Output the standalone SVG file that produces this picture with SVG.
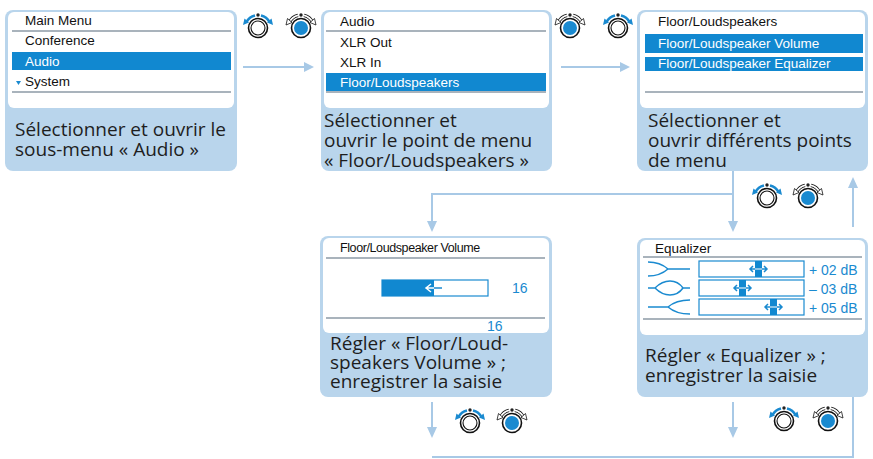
<svg xmlns="http://www.w3.org/2000/svg" width="873" height="459" viewBox="0 0 873 459">
<style>
.panel{fill:#b9d5ec}
.scr{fill:#fff}
.sep{stroke:#8c9aa6;stroke-width:1.3;fill:none}
.hl{fill:#1188d0}
.m{font-family:"Liberation Sans",Arial,sans-serif;font-size:13.5px;fill:#111}
.mw{font-family:"Liberation Sans",Arial,sans-serif;font-size:13.5px;fill:#fff}
.mb{font-family:"Liberation Sans",Arial,sans-serif;font-size:14px;fill:#1a8ad0}
.cap{font-family:"Open Sans","DejaVu Sans",sans-serif;font-size:19px;fill:#1e1e1e}
.con{stroke:#a8c9e6;stroke-width:2;fill:none}
.ah{fill:#a8c9e6}
.eq{stroke:#1a8ad0;stroke-width:1.5;fill:none}
</style>
<defs>
<g id="knobW">
<path d="M-11.5,-6 A13,13 0 0 1 -3,-12.6" stroke="#1a8ad0" stroke-width="2.6" fill="none"/>
<path d="M11.5,-6 A13,13 0 0 0 3,-12.6" stroke="#1a8ad0" stroke-width="2.6" fill="none"/>
<polygon points="-15,-3 -13.5,-9.5 -9,-5.5" fill="#1a8ad0"/>
<polygon points="15,-3 13.5,-9.5 9,-5.5" fill="#1a8ad0"/>
<circle cx="0" cy="-13" r="1.7" fill="#222"/>
<circle r="9.5" fill="#fff" stroke="#111" stroke-width="1.6"/>
<circle r="7" fill="#fff" stroke="#111" stroke-width="1.1"/>
</g>
<g id="knobB">
<path d="M-11.5,-6 A13,13 0 0 1 -3,-12.6" stroke="#111" stroke-width="3.2" fill="none"/>
<path d="M-11.5,-6 A13,13 0 0 1 -3,-12.6" stroke="#fff" stroke-width="1.6" fill="none"/>
<path d="M11.5,-6 A13,13 0 0 0 3,-12.6" stroke="#111" stroke-width="3.2" fill="none"/>
<path d="M11.5,-6 A13,13 0 0 0 3,-12.6" stroke="#fff" stroke-width="1.6" fill="none"/>
<polygon points="-15,-3 -13.5,-9.5 -9,-5.5" fill="#fff" stroke="#111" stroke-width="0.8"/>
<polygon points="15,-3 13.5,-9.5 9,-5.5" fill="#fff" stroke="#111" stroke-width="0.8"/>
<circle cx="0" cy="-13" r="1.7" fill="#222"/>
<circle r="9.5" fill="#fff" stroke="#111" stroke-width="1.6"/>
<circle r="7" fill="#1a8ad0"/>
</g>
</defs>

<g id="connectors">
<line class="con" x1="243" y1="67" x2="306" y2="67"/><polygon class="ah" points="314,67 304,62 304,72"/>
<line class="con" x1="561" y1="67" x2="622" y2="67"/><polygon class="ah" points="630,67 620,62 620,72"/>
<polyline class="con" points="733,171 733,194 432,194 432,222"/><polygon class="ah" points="432,232 427,221 437,221"/>
<line class="con" x1="733" y1="194" x2="733" y2="222"/><polygon class="ah" points="733,232 728,221 738,221"/>
<line class="con" x1="853" y1="227" x2="853" y2="187"/><polygon class="ah" points="853,177 848,188 858,188"/>
<line class="con" x1="432" y1="402" x2="432" y2="428"/><polygon class="ah" points="432,438 427,427 437,427"/>
<line class="con" x1="733" y1="402" x2="733" y2="428"/><polygon class="ah" points="733,438 728,427 738,427"/>
<polyline class="con" points="432,457 853,457 853,397"/>
</g>

<g id="knobs">
<use href="#knobW" x="258" y="28"/><use href="#knobB" x="301" y="28"/>
<use href="#knobB" x="570" y="28"/><use href="#knobW" x="618" y="28"/>
<use href="#knobW" x="767" y="198"/><use href="#knobB" x="808" y="198"/>
<use href="#knobW" x="470" y="423"/><use href="#knobB" x="512" y="423"/>
<use href="#knobW" x="784" y="421"/><use href="#knobB" x="828" y="421"/>
</g>

<g id="main-menu">
<rect class="panel" x="5" y="10" width="232" height="161" rx="8"/>
<rect class="scr" x="8" y="12" width="226" height="96" rx="6"/>
<text class="m" x="25" y="25">Main Menu</text>
<line class="sep" x1="12" y1="31" x2="231" y2="31"/>
<text class="m" x="25" y="45">Conference</text>
<rect class="hl" x="12" y="52" width="219" height="18"/>
<text class="mw" x="25" y="66">Audio</text>
<polygon points="16,81 21,81 18.5,85" fill="#1a8ad0"/>
<text class="m" x="25" y="86">System</text>
<line class="sep" x1="12" y1="92" x2="231" y2="92"/>
<text class="cap" x="15" y="136">Sélectionner et ouvrir le</text>
<text class="cap" x="15" y="156">sous-menu « Audio »</text>
</g>

<g id="audio-menu">
<rect class="panel" x="321" y="10" width="231" height="161" rx="8"/>
<rect class="scr" x="324" y="12" width="225" height="96" rx="6"/>
<text class="m" x="340" y="26">Audio</text>
<line class="sep" x1="326" y1="31" x2="546" y2="31"/>
<text class="m" x="340" y="47">XLR Out</text>
<text class="m" x="340" y="67">XLR In</text>
<rect class="hl" x="326" y="73" width="220" height="18"/>
<text class="mw" x="340" y="87">Floor/Loudspeakers</text>
<line class="sep" x1="326" y1="92" x2="546" y2="92"/>
<text class="cap" x="324" y="127">Sélectionner et</text>
<text class="cap" x="324" y="147">ouvrir le point de menu</text>
<text class="cap" x="324" y="167">« Floor/Loudspeakers »</text>
</g>

<g id="floor-menu">
<rect class="panel" x="637" y="10" width="231" height="161" rx="8"/>
<rect class="scr" x="640" y="12" width="225" height="96" rx="6"/>
<text class="m" x="658" y="26">Floor/Loudspeakers</text>
<rect class="hl" x="645" y="34" width="218" height="19"/>
<text class="mw" x="658" y="48">Floor/Loudspeaker Volume</text>
<rect class="hl" x="645" y="57" width="218" height="14"/>
<text class="mw" x="658" y="68">Floor/Loudspeaker Equalizer</text>
<line class="sep" x1="645" y1="92" x2="863" y2="92"/>
<text class="cap" x="648" y="127">Sélectionner et</text>
<text class="cap" x="648" y="147">ouvrir différents points</text>
<text class="cap" x="648" y="167">de menu</text>
</g>

<g id="volume">
<rect class="panel" x="320" y="236" width="232" height="161" rx="8"/>
<rect class="scr" x="323" y="238" width="226" height="95" rx="6"/>
<text class="m" x="340" y="252" style="font-size:12.5px;letter-spacing:-0.4px">Floor/Loudspeaker Volume</text>
<line class="sep" x1="326" y1="258" x2="545" y2="258"/>
<rect x="382" y="280" width="106" height="16" fill="#fff" stroke="#1a8ad0" stroke-width="1.2"/>
<rect class="hl" x="382" y="280" width="52" height="16"/>
<path d="M426,288 H442 M431,284 L426,288 L431,292" stroke="#fff" stroke-width="1.5" fill="none"/>
<path d="M434,288 H442" stroke="#1a8ad0" stroke-width="1.5"/>
<text class="mb" x="512" y="293">16</text>
<line class="sep" x1="326" y1="318" x2="545" y2="318"/>
<text class="mb" x="487" y="331">16</text>
<text class="cap" x="330" y="350">Régler « Floor/Loud-</text>
<text class="cap" x="330" y="369">speakers Volume » ;</text>
<text class="cap" x="330" y="388">enregistrer la saisie</text>
</g>

<g id="equalizer">
<rect class="panel" x="637" y="238" width="231" height="159" rx="8"/>
<rect class="scr" x="640" y="240" width="225" height="95" rx="6"/>
<text class="m" x="655" y="253">Equalizer</text>
<line class="sep" x1="643" y1="257" x2="862" y2="257"/>
<path class="eq" d="M648,262 Q660,262 668,269 M648,276 Q660,276 668,269 M668,269 H690"/>
<path class="eq" d="M648,288 H655 Q662,281 670,281 Q678,281 683,288 H690 M655,288 Q662,295 670,295 Q678,295 683,288"/>
<path class="eq" d="M648,307 H668 Q676,300 690,300 M668,307 Q676,314 690,314"/>
<rect x="699" y="261" width="105" height="16" fill="none" stroke="#1a8ad0" stroke-width="1.2"/>
<rect x="699" y="280" width="105" height="16" fill="none" stroke="#1a8ad0" stroke-width="1.2"/>
<rect x="699" y="299" width="105" height="16" fill="none" stroke="#1a8ad0" stroke-width="1.2"/>
<rect class="hl" x="755" y="261" width="7" height="16"/><path d="M750,269 H767 M753,266 L750,269 L753,272 M764,266 L767,269 L764,272" stroke="#1a8ad0" stroke-width="1.5" fill="none"/><path d="M755,269 H762" stroke="#fff" stroke-width="1"/>
<rect class="hl" x="739" y="280" width="7" height="16"/><path d="M734,288 H751 M737,285 L734,288 L737,291 M748,285 L751,288 L748,291" stroke="#1a8ad0" stroke-width="1.5" fill="none"/><path d="M739,288 H746" stroke="#fff" stroke-width="1"/>
<rect class="hl" x="770" y="299" width="7" height="16"/><path d="M765,307 H782 M768,304 L765,307 L768,310 M779,304 L782,307 L779,310" stroke="#1a8ad0" stroke-width="1.5" fill="none"/><path d="M770,307 H777" stroke="#fff" stroke-width="1"/>
<text class="mb" x="809" y="275">+ 02 dB</text>
<text class="mb" x="809" y="294">– 03 dB</text>
<text class="mb" x="809" y="313">+ 05 dB</text>
<line class="sep" x1="643" y1="319" x2="862" y2="319"/>
<text class="cap" x="645" y="362">Régler « Equalizer » ;</text>
<text class="cap" x="645" y="382">enregistrer la saisie</text>
</g>
</svg>
